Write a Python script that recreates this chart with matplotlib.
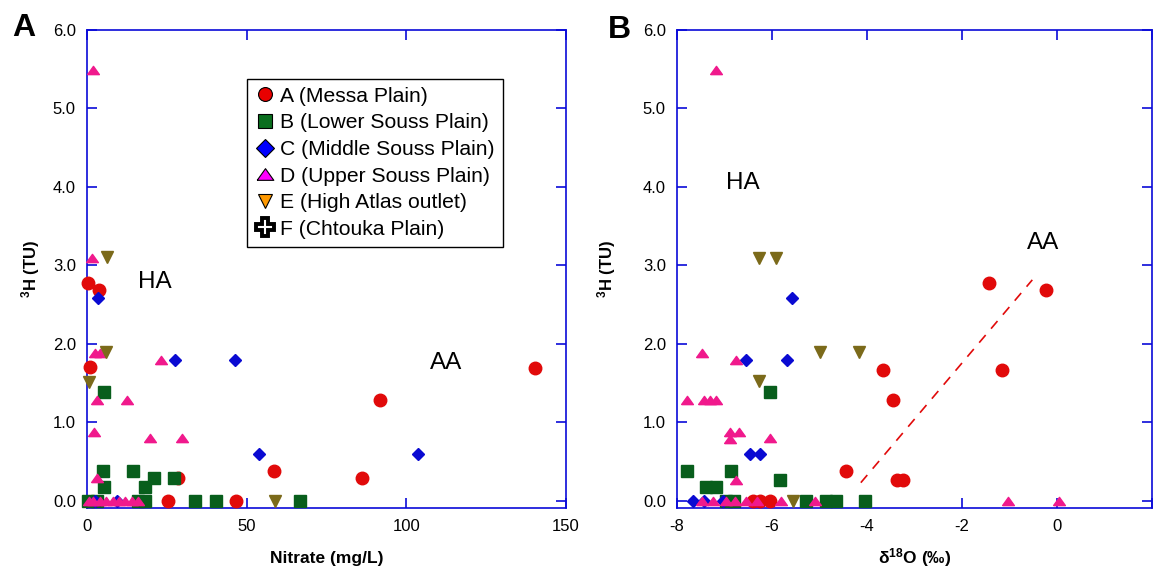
import matplotlib
matplotlib.use("Agg")
import matplotlib.pyplot as plt
from matplotlib.lines import Line2D

plt.rcParams['font.family'] = ['Liberation Sans', 'DejaVu Sans']
plt.rcParams['mathtext.fontset'] = 'custom'
plt.rcParams['mathtext.rm'] = 'Liberation Sans'
plt.rcParams['mathtext.bf'] = 'Liberation Sans:bold'

# ---------------- Panel A data: Nitrate (mg/L) vs 3H (TU) ----------------
a_red_x = [0.4, 3.9, 0.9, 91.8, 140.3, 58.5, 86.2, 28.4, 25.3, 46.8]
a_red_y = [2.78, 2.69, 1.70, 1.28, 1.69, 0.38, 0.29, 0.29, 0.0, 0.0]
a_green_x = [5.3, 4.9, 14.4, 21.0, 27.1, 5.3, 18.2, 0.4, 3.0, 16.0, 18.2, 33.9, 40.5, 66.8]
a_green_y = [1.38, 0.38, 0.38, 0.29, 0.29, 0.18, 0.18, 0.0, 0.0, 0.0, 0.0, 0.0, 0.0, 0.0]
a_blue_x = [3.5, 27.5, 46.4, 53.8, 103.7, 2.5, 9.5]
a_blue_y = [2.58, 1.79, 1.79, 0.60, 0.60, 0.0, 0.0]
a_pink_x = [2.0, 1.5, 2.5, 4.0, 23.1, 3.0, 12.5, 2.3, 19.8, 29.7, 3.0,
            0.5, 2.0, 4.0, 6.0, 8.0, 10.0, 12.0, 14.0, 16.0]
a_pink_y = [5.49, 3.10, 1.88, 1.88, 1.79, 1.29, 1.29, 0.88, 0.80, 0.80, 0.29,
            0.0, 0.0, 0.0, 0.0, 0.0, 0.0, 0.0, 0.0, 0.0]
a_olive_x = [6.4, 5.9, 0.7, 58.8]
a_olive_y = [3.11, 1.90, 1.51, 0.0]

# ---------------- Panel B data: d18O (permil) vs 3H (TU) ----------------
b_red_x = [-1.43, -0.24, -3.66, -1.15, -3.45, -4.45, -3.37, -3.24, -6.40, -6.26, -6.05]
b_red_y = [2.77, 2.69, 1.67, 1.67, 1.28, 0.38, 0.27, 0.27, 0.0, 0.0, 0.0]
b_green_x = [-6.05, -7.80, -6.87, -7.38, -7.17, -5.83, -6.96, -6.80, -5.28, -4.87, -4.66, -4.04]
b_green_y = [1.38, 0.38, 0.38, 0.18, 0.18, 0.27, 0.0, 0.0, 0.0, 0.0, 0.0, 0.0]
b_blue_x = [-5.58, -6.54, -5.69, -6.47, -6.25, -7.66, -7.43, -7.03]
b_blue_y = [2.58, 1.79, 1.79, 0.60, 0.60, 0.0, 0.0, 0.0]
b_pink_x = [-7.17, -7.48, -6.76, -7.78, -7.43, -7.31, -7.17, -6.89, -6.70, -6.89, -6.05, -6.76,
            -7.48, -7.25, -6.96, -6.78, -6.55, -6.32, -5.81, -5.10, -1.04, 0.04]
b_pink_y = [5.49, 1.88, 1.79, 1.29, 1.29, 1.29, 1.29, 0.88, 0.88, 0.79, 0.80, 0.27,
            0.0, 0.0, 0.0, 0.0, 0.0, 0.0, 0.0, 0.0, 0.0, 0.0]
b_olive_x = [-6.28, -5.92, -4.98, -4.17, -6.28, -5.56]
b_olive_y = [3.10, 3.10, 1.89, 1.89, 1.52, 0.0]
b_trend_x = [-4.13, -0.52]
b_trend_y = [0.23, 2.815]

legend_labels = ["A (Messa Plain)", "B (Lower Souss Plain)", "C (Middle Souss Plain)",
                 "D (Upper Souss Plain)", "E (High Atlas outlet)", "F (Chtouka Plain)"]
y_ticks = [0, 1, 2, 3, 4, 5, 6]
y_ticklabels = ["0.0", "1.0", "2.0", "3.0", "4.0", "5.0", "6.0"]
a_xticks = [0, 50, 100, 150]
a_xticklabels = ["0", "50", "100", "150"]
b_xticks = [-8, -6, -4, -2, 0, 2]
b_xticklabels = ["-8", "-6", "-4", "-2", "0", ""]

RED = '#e10a0a'
GREEN = '#085e1c'
BLUE = '#0a0ad2'
PINK = '#f0198c'
OLIVE = '#7b6a1a'
AXC = '#0a0ad8'

flat_tri = [(-1, -0.7), (1, -0.7), (0, 0.7), (-1, -0.7)]

fig = plt.figure(figsize=(11.53, 5.69), dpi=100)
axA = fig.add_axes([87/1153, 1-508/569, 479/1153, 478/569])
axB = fig.add_axes([677/1153, 1-508/569, 475/1153, 478/569])


def draw(ax, rx, ry, gx, gy, bx, by, px, py, ox, oy):
    ax.plot(rx, ry, 'o', ms=9, color=RED, mec=RED, ls='none', zorder=3, clip_on=False)
    ax.plot(gx, gy, 's', ms=9, color=GREEN, mec=GREEN, ls='none', zorder=4, clip_on=False)
    ax.plot(bx, by, 'D', ms=6, color=BLUE, mec=BLUE, ls='none', zorder=5, clip_on=False)
    ax.plot(px, py, ls='none', marker=flat_tri, ms=8.5, color=PINK, mec=PINK, zorder=6, clip_on=False)
    ax.plot(ox, oy, 'v', ms=8.5, color=OLIVE, mec=OLIVE, ls='none', zorder=7, clip_on=False)


def style(ax, xlim, xticks, xticklabels):
    ax.set_ylim(-0.093, 6.0)
    ax.set_xlim(*xlim)
    ax.set_yticks(y_ticks)
    ax.set_yticklabels(y_ticklabels)
    ax.set_xticks(xticks)
    ax.set_xticklabels(xticklabels)
    for s in ax.spines.values():
        s.set_color(AXC)
        s.set_linewidth(1.2)
    ax.tick_params(direction='in', length=7, width=1.2, color=AXC, labelcolor='black',
                   labelsize=12, top=True, right=True, pad=8)


def xlab(ax, text):
    ax.set_xlabel(text, fontsize=12.5, fontweight='bold')
    ax.xaxis.label.set_va('baseline')
    ax.xaxis.set_label_coords(0.5, -(563 - 508) / 478)


draw(axA, a_red_x, a_red_y, a_green_x, a_green_y, a_blue_x, a_blue_y,
     a_pink_x, a_pink_y, a_olive_x, a_olive_y)
style(axA, (0, 150), a_xticks, a_xticklabels)
xlab(axA, "Nitrate (mg/L)")
axA.set_ylabel(r"$\mathregular{^{3}}$H (TU)", fontsize=12, fontweight='bold')
axA.yaxis.set_label_coords(-0.094, 0.5)
axA.text(21.3, 2.79, "HA", fontsize=17.5, ha='center', va='center')
axA.text(112.6, 1.75, "AA", fontsize=17.5, ha='center', va='center')

handles = [
    Line2D([], [], ls='none', marker='o', ms=10, mfc='#e80000', mec='black', mew=0.8),
    Line2D([], [], ls='none', marker='s', ms=10, mfc='#0a6e1e', mec='black', mew=0.8),
    Line2D([], [], ls='none', marker='D', ms=9.5, mfc='#0000ff', mec='black', mew=0.8),
    Line2D([], [], ls='none', marker=flat_tri, ms=12, mfc='#ff00ff', mec='black', mew=0.8),
    Line2D([], [], ls='none', marker='v', ms=10.5, mfc='#ff9900', mec='black', mew=0.8),
    Line2D([], [], ls='none', marker='P', ms=13.5, mfc='white', mec='black', mew=2.8),
]
leg = axA.legend(handles, legend_labels, loc='upper left', bbox_to_anchor=(0.334, 0.898),
                 fontsize=15.2, frameon=True, fancybox=False, framealpha=1,
                 edgecolor='black', handlelength=0.9, handletextpad=0.3,
                 labelspacing=0.36, borderpad=0.38, borderaxespad=0)
leg.get_frame().set_linewidth(1.0)

draw(axB, b_red_x, b_red_y, b_green_x, b_green_y, b_blue_x, b_blue_y,
     b_pink_x, b_pink_y, b_olive_x, b_olive_y)
axB.plot(b_trend_x, b_trend_y, color=RED, lw=1.2, ls=(0, (6, 5)), zorder=2)
style(axB, (-8, 2), b_xticks, b_xticklabels)
xlab(axB, r"$\mathregular{\delta^{18}}$O (‰)")
axB.set_ylabel(r"$\mathregular{^{3}}$H (TU)", fontsize=12, fontweight='bold')
axB.yaxis.set_label_coords(-0.124, 0.5)
axB.text(-6.62, 4.05, "HA", fontsize=17.5, ha='center', va='center')
axB.text(-0.29, 3.29, "AA", fontsize=17.5, ha='center', va='center')

fig.text(24/1153, 1-28/569, "A", fontsize=23, fontweight='bold', ha='center', va='center')
fig.text(619/1153, 1-30/569, "B", fontsize=23, fontweight='bold', ha='center', va='center')

fig.savefig("out.png", dpi=100)
